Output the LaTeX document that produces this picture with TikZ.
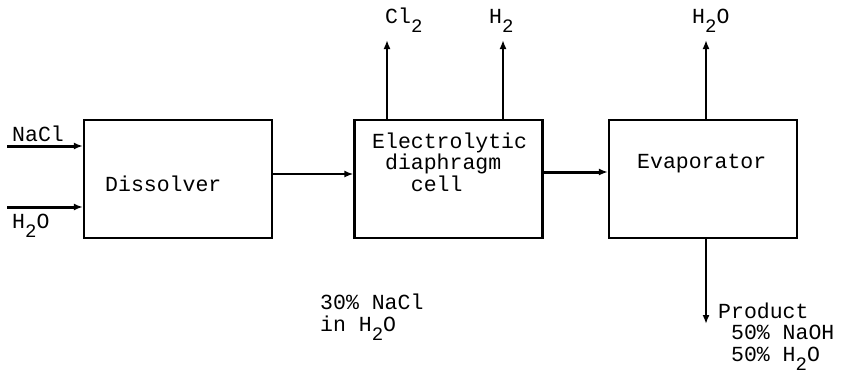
\documentclass[tikz,border=0pt]{standalone}
\usepackage{fontspec}
\setmainfont{Liberation Mono}
\usetikzlibrary{arrows.meta, positioning}
\newcommand{\chsub}[1]{\raisebox{-0.42em}{\fontsize{19}{19}\selectfont #1}}

\begin{document}
\begin{tikzpicture}[x=1pt, y=-1pt,
    unit/.style={draw, line width=2.2pt, minimum width=188pt,
                 minimum height=118pt, inner sep=0pt},
    txt/.style={font=\fontsize{21.5}{21.5}\selectfont, inner sep=0pt, align=left},
    flow/.style={line width=2.4pt, -{Latex[length=9pt,width=7pt]}}
]
\useasboundingbox (0,0) rectangle (842,376);

% process units
\node[unit] (dissolver) at (178,179) {};
\node[unit] (cell)      at (448.5,179) {};
\node[unit] (evap)      at (703,179) {};

\node[txt, anchor=base west] (dissolver txt) at (105,191) {Dissolver};
\node[txt, anchor=base west] (cell txt) at (372,191)
    {Electrolytic\\\phantom{x}diaphragm\\\phantom{xxx}cell};
\node[txt, anchor=base west] (evap txt) at (637,168) {Evaporator};

% feeds
\coordinate (nacl in) at (7,146);
\coordinate (water in) at (7,207);
\draw[flow, line width=3pt] (nacl in) -- (dissolver.west |- nacl in);
\draw[flow, line width=3pt] (water in) -- (dissolver.west |- water in);
\node[txt, anchor=base west] (nacl lbl) at (12,141) {NaCl};
\node[txt, anchor=base west] (water lbl) at (12,228) {H\chsub{2}O};

% streams between units
\draw[flow, line width=1.8pt] (dissolver.east |- 0,174) -- (cell.west |- 0,174);
\draw[flow, line width=3pt] (cell.east |- 0,172) -- (evap.west |- 0,172);
\node[txt, anchor=base west] (brine lbl) at (320,331)
    {30\% NaCl\\in H\chsub{2}O};

% gases off the cell
\coordinate (cl top) at (387,40);
\coordinate (h top) at (503,40);
\draw[flow] (cell.north -| cl top) -- (cl top);
\draw[flow] (cell.north -| h top) -- (h top);
\node[txt, anchor=base west] (cl lbl) at (385,23) {Cl\chsub{2}};
\node[txt, anchor=base west] (h lbl) at (489,23) {H\chsub{2}};

% evaporator outlets
\coordinate (steam top) at (706,40);
\coordinate (prod end) at (706,324);
\draw[flow] (evap.north -| steam top) -- (steam top);
\draw[flow] (evap.south -| prod end) -- (prod end);
\node[txt, anchor=base west] (steam lbl) at (692,23) {H\chsub{2}O};
\node[txt, anchor=base west] (prod lbl) at (718,361)
    {Product\\\phantom{x}50\% NaOH\\\phantom{x}50\% H\chsub{2}O};
\end{tikzpicture}
\end{document}
